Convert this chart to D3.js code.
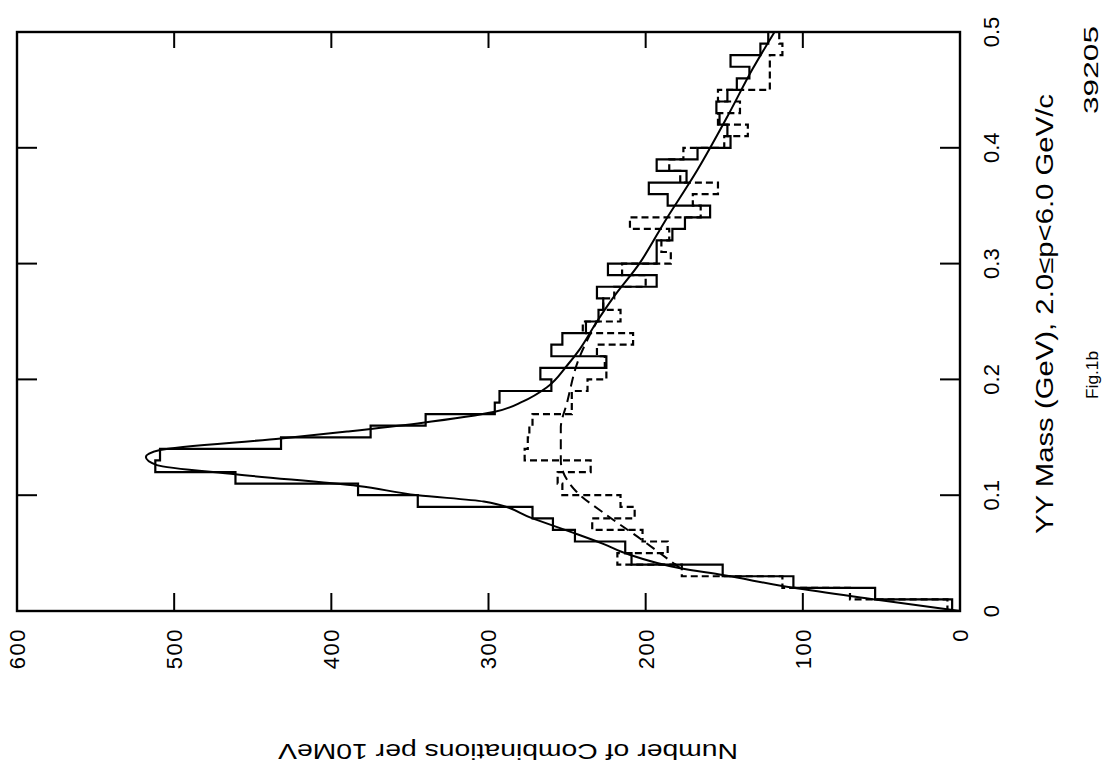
<!DOCTYPE html>
<html>
<head>
<meta charset="utf-8">
<script src="https://cdn.jsdelivr.net/npm/d3@7/dist/d3.min.js"></script>
<style>
    body { margin: 0; background: #fff; }
    svg text { font-family: "Liberation Sans", Arial, sans-serif; fill: #000; }
</style>
</head>
<body>
<svg id="chart" width="1117" height="772"></svg>
<script>
// gamma-gamma mass bins, 10 MeV wide (GeV)
const massEdges = [0.00, 0.01, 0.02, 0.03, 0.04, 0.05, 0.06, 0.07, 0.08, 0.09,
                   0.10, 0.11, 0.12, 0.13, 0.14, 0.15, 0.16, 0.17, 0.18, 0.19,
                   0.20, 0.21, 0.22, 0.23, 0.24, 0.25, 0.26, 0.27, 0.28, 0.29,
                   0.30, 0.31, 0.32, 0.33, 0.34, 0.35, 0.36, 0.37, 0.38, 0.39,
                   0.40, 0.41, 0.42, 0.43, 0.44, 0.45, 0.46, 0.47, 0.48, 0.49, 0.50];

// combinations per bin, solid histogram
const solidCounts = [5, 54, 106, 151, 209, 213, 245, 259, 272, 345,
                     383, 461, 512, 509, 432, 375, 340, 296, 293, 260,
                     267, 225, 260, 253, 238, 230, 227, 231, 193, 224,
                     193, 193, 183, 175, 159, 186, 198, 174, 193, 167,
                     146, 148, 153, 155, 148, 142, 134, 146, 127, 122];

// combinations per bin, dashed histogram
const dashedCounts = [8, 70, 113, 177, 218, 186, 202, 234, 207, 216,
                      253, 256, 235, 277, 275, 274, 272, 247, 247, 237,
                      225, 226, 231, 208, 240, 216, 227, 220, 200, 215,
                      184, 190, 185, 210, 165, 170, 154, 178, 185, 176,
                      150, 135, 154, 140, 154, 121, 121, 121, 113, 115];

// fitted curve (mass, count)
const fitMass  = [0, 0.01, 0.02, 0.031, 0.037, 0.049, 0.058, 0.067, 0.08, 0.0945,
                  0.1, 0.108, 0.118, 0.126, 0.133, 0.139, 0.149, 0.155, 0.162, 0.172,
                  0.181, 0.193, 0.212, 0.226, 0.25, 0.27, 0.3, 0.336, 0.381, 0.427, 0.468, 0.5];
const fitCount = [0, 54, 106, 151, 178, 211, 227, 245, 272, 303,
                  345, 383, 461, 511, 518, 509, 432, 390, 345, 296,
                  278, 263, 250, 242, 231, 221, 204, 188, 167, 148, 132, 118];

// background curve (dashed)
const bgMass  = [0.037, 0.045, 0.062, 0.083, 0.103, 0.13, 0.158, 0.18, 0.216, 0.25];
const bgCount = [178, 186, 203, 225, 244, 254, 254, 250, 243, 231];

const countTicks = [0, 100, 200, 300, 400, 500, 600];
const massTicks = [0, 0.1, 0.2, 0.3, 0.4, 0.5];
const massTickLabels = ["0", "0.1", "0.2", "0.3", "0.4", "0.5"];

let svg = d3.select("#chart");

// the figure is printed turned on its side: counts run right to left, mass bottom to top
let x = d3.scaleLinear().domain([0, 600]).range([960, 17]),
    y = d3.scaleLinear().domain([0, 0.5]).range([611, 32]);

// frame
svg.append("rect")
    .attr("x", x(600)).attr("y", y(0.5))
    .attr("width", x(0) - x(600)).attr("height", y(0) - y(0.5))
    .attr("fill", "none").attr("stroke", "#000").attr("stroke-width", 2.4);

// inward ticks, count axis (top and bottom)
let inner = countTicks.filter(d => d > 0 && d < 600);
svg.selectAll(".tick-b").data(inner).enter().append("line")
    .attr("x1", d => x(d)).attr("x2", d => x(d))
    .attr("y1", y(0)).attr("y2", y(0) - 18)
    .attr("stroke", "#000").attr("stroke-width", 2);
svg.selectAll(".tick-t").data(inner).enter().append("line")
    .attr("x1", d => x(d)).attr("x2", d => x(d))
    .attr("y1", y(0.5)).attr("y2", y(0.5) + 16)
    .attr("stroke", "#000").attr("stroke-width", 2);

// inward ticks, mass axis (left and right)
let innerM = massTicks.filter(d => d > 0 && d < 0.5);
svg.selectAll(".tick-l").data(innerM).enter().append("line")
    .attr("x1", x(600)).attr("x2", x(600) + 20)
    .attr("y1", d => y(d)).attr("y2", d => y(d))
    .attr("stroke", "#000").attr("stroke-width", 2);
svg.selectAll(".tick-r").data(innerM).enter().append("line")
    .attr("x1", x(0)).attr("x2", x(0) - 20)
    .attr("y1", d => y(d)).attr("y2", d => y(d))
    .attr("stroke", "#000").attr("stroke-width", 2);

// count labels, read bottom to top
svg.selectAll(".clabel").data(countTicks).enter().append("text")
    .attr("transform", d => "translate(" + x(d) + ",628) rotate(-90)")
    .attr("text-anchor", "end")
    .attr("dy", "0.36em")
    .attr("font-size", 22)
    .attr("letter-spacing", 1.5)
    .text(d => d);

// mass labels
svg.selectAll(".mlabel").data(massTicks).enter().append("text")
    .attr("transform", d => "translate(991," + y(d) + ") rotate(-90)")
    .attr("text-anchor", "middle")
    .attr("dy", "0.36em")
    .attr("font-size", 22)
    .text((d, i) => massTickLabels[i]);

// stepped histograms
function stepPath(counts) {
    let p = d3.path();
    p.moveTo(x(0), y(massEdges[0]));
    counts.forEach((c, i) => {
        p.lineTo(x(c), y(massEdges[i]));
        p.lineTo(x(c), y(massEdges[i + 1]));
    });
    return p.toString();
}

svg.append("path")
    .attr("d", stepPath(dashedCounts))
    .attr("fill", "none").attr("stroke", "#000")
    .attr("stroke-width", 2.2).attr("stroke-dasharray", "7,4");

svg.append("path")
    .attr("d", stepPath(solidCounts))
    .attr("fill", "none").attr("stroke", "#000")
    .attr("stroke-width", 2.2);

// fitted curves
let curve = d3.line()
    .x(d => x(d[1]))
    .y(d => y(d[0]))
    .curve(d3.curveMonotoneY);

svg.append("path")
    .attr("d", curve(bgMass.map((m, i) => [m, bgCount[i]])))
    .attr("fill", "none").attr("stroke", "#000")
    .attr("stroke-width", 2).attr("stroke-dasharray", "10,6");

svg.append("path")
    .attr("d", curve(fitMass.map((m, i) => [m, fitCount[i]])))
    .attr("fill", "none").attr("stroke", "#000")
    .attr("stroke-width", 2);

// axis titles and figure marks
svg.append("text")
    .attr("transform", "translate(1053,314) rotate(-90)")
    .attr("text-anchor", "middle")
    .attr("font-size", 23)
    .attr("textLength", 440).attr("lengthAdjust", "spacingAndGlyphs")
    .text("YY Mass (GeV), 2.0\u2264p<6.0 GeV/c");

svg.append("text")
    .attr("transform", "translate(1098,70) rotate(-90)")
    .attr("text-anchor", "middle")
    .attr("font-size", 21)
    .attr("textLength", 88).attr("lengthAdjust", "spacingAndGlyphs")
    .text("39205");

svg.append("text")
    .attr("transform", "translate(1098,375) rotate(-90)")
    .attr("text-anchor", "middle")
    .attr("font-size", 16)
    .attr("textLength", 48).attr("lengthAdjust", "spacingAndGlyphs")
    .text("Fig.1b");

svg.append("text")
    .attr("transform", "translate(508,744) rotate(180)")
    .attr("text-anchor", "middle")
    .attr("font-size", 22)
    .attr("textLength", 460).attr("lengthAdjust", "spacingAndGlyphs")
    .text("Number of Combinations per 10MeV");
</script>
</body>
</html>
